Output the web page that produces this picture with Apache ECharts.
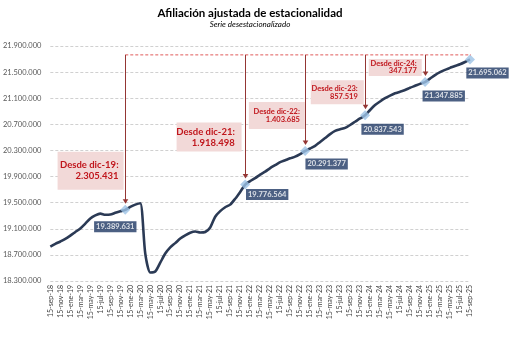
<!DOCTYPE html>
<html><head><meta charset="utf-8">
<script src="https://cdn.jsdelivr.net/npm/echarts@6/dist/echarts.min.js"></script>
<style>html,body{margin:0;padding:0;background:#fff}#c{width:514px;height:338px}</style>
</head><body><div id="c"></div>
<script>
const categories = [
'15-sep-18','15-oct-18','15-nov-18','15-dic-18',
'15-ene-19','15-feb-19','15-mar-19','15-abr-19','15-may-19','15-jun-19','15-jul-19','15-ago-19','15-sep-19','15-oct-19','15-nov-19','15-dic-19',
'15-ene-20','15-feb-20','15-mar-20','15-abr-20','15-may-20','15-jun-20','15-jul-20','15-ago-20','15-sep-20','15-oct-20','15-nov-20','15-dic-20',
'15-ene-21','15-feb-21','15-mar-21','15-abr-21','15-may-21','15-jun-21','15-jul-21','15-ago-21','15-sep-21','15-oct-21','15-nov-21','15-dic-21',
'15-ene-22','15-feb-22','15-mar-22','15-abr-22','15-may-22','15-jun-22','15-jul-22','15-ago-22','15-sep-22','15-oct-22','15-nov-22','15-dic-22',
'15-ene-23','15-feb-23','15-mar-23','15-abr-23','15-may-23','15-jun-23','15-jul-23','15-ago-23','15-sep-23','15-oct-23','15-nov-23','15-dic-23',
'15-ene-24','15-feb-24','15-mar-24','15-abr-24','15-may-24','15-jun-24','15-jul-24','15-ago-24','15-sep-24','15-oct-24','15-nov-24','15-dic-24',
'15-ene-25','15-feb-25','15-mar-25','15-abr-25','15-may-25','15-jun-25','15-jul-25','15-ago-25','15-sep-25'
];
const afiliacion = [
18825000,18868000,18905000,18945000,
18995000,19050000,19105000,19180000,19258000,19305000,19332000,19315000,19318000,19345000,19368000,19389631,
19435000,19470000,19492000,18720000,18430000,18445000,18580000,18720000,18815000,18880000,18950000,19000000,
19040000,19058000,19042000,19050000,19120000,19285000,19370000,19430000,19470000,19560000,19665000,19776564,
19830000,19875000,19930000,19975000,20030000,20075000,20120000,20150000,20180000,20205000,20245000,20291377,
20330000,20370000,20430000,20490000,20550000,20600000,20625000,20645000,20690000,20740000,20790000,20837543,
20920000,20995000,21050000,21100000,21140000,21175000,21200000,21225000,21260000,21290000,21320000,21347885,
21400000,21455000,21500000,21535000,21565000,21595000,21620000,21655000,21695062
];
const highlightCats = ['15-dic-19','15-dic-21','15-dic-22','15-dic-23','15-dic-24','15-sep-25'];
const highlightValues = [19389631,19776564,20291377,20837543,21347885,21695062];
const annotTitles = ['Desde dic-19:','Desde dic-21:','Desde dic-22:','Desde dic-23:','Desde dic-24:'];
const annotDiffs = [2305431,1918498,1403685,857519,347177];
const yMin = 18300000, yMax = 21900000, yStep = 400000;

function fmt(n){ return String(n).replace(/\B(?=(\d{3})+(?!\d))/g,'.'); }
const FONT = 'Lato, "Open Sans", sans-serif';

// label offsets (style only)
const labelOffsets = [[-10,17],[22,10],[21.5,13],[17.5,14],[18.7,14],[17.5,13.7]];

const chart = echarts.init(document.getElementById('c'), null, {renderer:'canvas'});
const option = {
  animation:false,
  backgroundColor:'#fff',
  title:{
    text:'Afiliación ajustada de estacionalidad',
    subtext:'Serie desestacionalizado',
    left:245, top:2, textAlign:'center', itemGap:1,
    textStyle:{fontSize:11.5,fontWeight:'bold',color:'#000',fontFamily:FONT},
    subtextStyle:{fontSize:8,fontStyle:'italic',color:'#000',fontFamily:FONT}
  },
  grid:{left:47,right:44,top:46,bottom:57,containLabel:false},
  xAxis:{
    type:'category', data:categories, boundaryGap:false,
    axisLine:{show:false}, axisTick:{show:false},
    axisLabel:{interval:1, rotate:90, fontSize:7, color:'#404040', margin:4, fontFamily:FONT}
  },
  yAxis:{
    type:'value', min:yMin, max:yMax, interval:yStep,
    axisLine:{show:false}, axisTick:{show:false},
    axisLabel:{formatter:v=>fmt(v), fontSize:7.5, color:'#595959', margin:9, fontFamily:FONT},
    splitLine:{lineStyle:{color:'#d0d0d0',type:[3,2],width:1}}
  },
  series:[
    {type:'line', data:afiliacion, smooth:0.25, showSymbol:false,
     lineStyle:{color:'#2b3a55',width:2.6}, z:2},
    {type:'scatter', symbol:'diamond', symbolSize:10, z:5,
     itemStyle:{color:'#9dc3e6'},
     data: highlightCats.map((c,i)=>({value:[c,highlightValues[i]],
       label:{show:true, position:'inside', offset:labelOffsets[i],
         formatter:fmt(highlightValues[i]), color:'#fff', fontWeight:'bold', fontSize:7.5,
         fontFamily:FONT, backgroundColor:'#1f3864', padding:[2,2,1,2]}}))
    }
  ]
};
chart.setOption(option);

// annotation layout (relative to points): [gapRight, width, topOffset, height, fontSize, lineHeight, textPad]
const boxes = [
  [1.7,66,-58,38,9.5,11,5],
  [3.6,65,-62,29,9.5,11,6.7],
  [0.3,56,-49,27,7.5,8.3,5],
  [1.3,53,-35,24,7.5,7.5,6],
  [3.3,53,-23,17,7.5,7,5]
];
function px(c,v){ return chart.convertToPixel({gridIndex:0},[c,v]); }
const lastP = px(highlightCats[5], highlightValues[5]);
const lvlY = lastP[1]-4.5;
const firstP = px(highlightCats[0], highlightValues[0]);
const g = [];
g.push({type:'line', z:10, shape:{x1:firstP[0], y1:lvlY, x2:lastP[0]+1, y2:lvlY},
  style:{stroke:'#e05a5a', lineWidth:1, lineDash:[3,2]}});
for(let k=0;k<5;k++){
  const p = px(highlightCats[k], highlightValues[k]);
  const b = boxes[k];
  const x = Math.round(p[0])+0.5;
  const tipY = p[1]-6;
  g.push({type:'rect', z:3, shape:{x:p[0]-b[0]-b[1], y:p[1]+b[2], width:b[1], height:b[3]},
    style:{fill:'#f2d9d8'}});
  g.push({type:'text', z:4, x:p[0]-b[0]-b[6], y:p[1]+b[2]+b[3]/2,
    style:{text:annotTitles[k]+'\n'+fmt(annotDiffs[k]), fill:'#c0161c', fontWeight:'bold',
      fontSize:b[4], lineHeight:b[5], fontFamily:FONT, align:'right', verticalAlign:'middle'}});
  g.push({type:'line', z:10, shape:{x1:x, y1:lvlY, x2:x, y2:tipY-3},
    style:{stroke:'#943634', lineWidth:1}});
  g.push({type:'polygon', z:10, shape:{points:[[x-2.8,tipY-4.5],[x+2.8,tipY-4.5],[x,tipY]]},
    style:{fill:'#943634'}});
}
chart.setOption({graphic:g});
</script></body></html>
